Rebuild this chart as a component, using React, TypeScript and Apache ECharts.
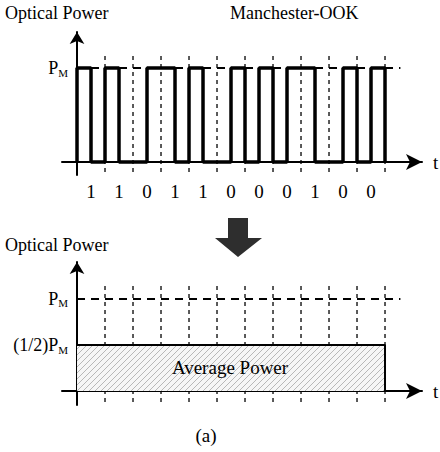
import React, { useEffect, useRef } from 'react';
import * as echarts from 'echarts';

// ---- data ----
const bits = [1, 1, 0, 1, 1, 0, 0, 0, 1, 0, 0];
const peakLevel = 1; // P_M
const averageLevel = 0.5; // (1/2) P_M
const boundaries = bits.map((_, i) => i + 1);
const topLevelTicks = [1];
const bottomLevelTicks = [0.5, 1];
const bitCenters = bits.map((_, i) => i + 0.5);
const levelNames: Record<string, string> = {
  '1': '{p|P}{s|M}',
  '0.5': '{p|(1/2)P}{s|M}',
};

// Manchester-OOK: bit 1 -> high then low, bit 0 -> low then high
const halfLevels = bits.flatMap((b) => (b ? [peakLevel, 0] : [0, peakLevel]));
const waveform = [[0, 0], ...halfLevels.map((l, k) => [k * 0.5, l]), [bits.length, 0]];
const average = [
  [0, averageLevel],
  [bits.length, averageLevel],
  [bits.length, 0],
];

const FONT = "Liberation Serif";

function makeHatch(): HTMLCanvasElement {
  const c = document.createElement('canvas');
  c.width = 6;
  c.height = 6;
  const g = c.getContext('2d')!;
  g.fillStyle = '#f6f6f6';
  g.fillRect(0, 0, 6, 6);
  g.strokeStyle = '#b8b8b8';
  g.lineWidth = 1;
  g.beginPath();
  g.moveTo(0, 6);
  g.lineTo(6, 0);
  g.stroke();
  return c;
}

const richLevel = {
  p: { fontSize: 18, fontFamily: FONT, color: '#000', lineHeight: 20 },
  s: { fontSize: 11, fontFamily: FONT, color: '#000', lineHeight: 12, verticalAlign: 'bottom' as const },
};

function xAxisCfg(gridIndex: number, showBits: boolean) {
  return {
    type: 'value' as const,
    gridIndex,
    min: -0.536,
    max: 12.321,
    name: 't',
    nameLocation: 'end' as const,
    nameGap: 11,
    nameTextStyle: { fontSize: 19, fontFamily: FONT, color: '#000' },
    axisLine: {
      onZero: true,
      symbol: ['none', 'arrow'],
      symbolSize: [12, 16],
      lineStyle: { color: '#000', width: 2 },
    },
    axisTick: { show: false },
    splitLine: { show: false },
    axisLabel: showBits
      ? {
          show: true,
          customValues: bitCenters,
          margin: 7,
          fontSize: 19,
          fontFamily: FONT,
          color: '#000',
          formatter: (v: number) => String(bits[Math.round(v - 0.5)]),
        }
      : { show: false },
  };
}

function yAxisCfg(gridIndex: number, min: number, max: number, ticks: number[]) {
  return {
    type: 'value' as const,
    gridIndex,
    min,
    max,
    axisLine: {
      onZero: true,
      symbol: ['none', 'arrow'],
      symbolSize: [11, 12],
      lineStyle: { color: '#000', width: 2 },
    },
    axisTick: { show: false },
    splitLine: { show: false },
    axisLabel: {
      show: true,
      customValues: ticks,
      margin: -6,
      formatter: (v: number) => levelNames[String(v)] ?? '',
      rich: richLevel,
    },
  };
}

function dashedSeries(axisIndex: number, lo: number, hi: number) {
  return [
    {
      type: 'line',
      xAxisIndex: axisIndex,
      yAxisIndex: axisIndex,
      data: boundaries.flatMap((b) => [[b, lo], [b, hi], [b, '-']]),
      connectNulls: false,
      symbol: 'none',
      silent: true,
      lineStyle: { type: [4, 4], width: 1.3, color: '#000' },
      z: 2,
    },
    {
      type: 'line',
      xAxisIndex: axisIndex,
      yAxisIndex: axisIndex,
      data: [
        [0, peakLevel],
        [11.55, peakLevel],
      ],
      symbol: 'none',
      silent: true,
      lineStyle: { type: [8, 6], width: 2.2, color: '#000' },
      z: 2,
    },
  ];
}

export default function App() {
  const ref = useRef<HTMLDivElement>(null);
  useEffect(() => {
    if (!ref.current) return;
    const chart = echarts.init(ref.current, null, { renderer: 'svg' });
    const hatch = makeHatch();
    const txt = (text: string, size: number) => ({ text, fontSize: size, fontFamily: FONT, fill: '#000' });
    chart.setOption({
      animation: false,
      backgroundColor: '#fff',
      grid: [
        { left: 62, right: 18, top: 32, height: 143 },
        { left: 62, right: 18, top: 262, height: 143 },
      ],
      xAxis: [xAxisCfg(0, true), xAxisCfg(1, false)],
      yAxis: [yAxisCfg(0, -0.1383, 1.383, topLevelTicks), yAxisCfg(1, -0.152, 1.402, bottomLevelTicks)],
      series: [
        {
          type: 'line',
          xAxisIndex: 0,
          yAxisIndex: 0,
          data: waveform,
          step: 'end',
          symbol: 'none',
          lineStyle: { color: '#000', width: 3.5 },
          z: 3,
        },
        ...dashedSeries(0, -0.106, 1.14),
        ...dashedSeries(1, -0.12, 1.15),
        {
          type: 'line',
          xAxisIndex: 1,
          yAxisIndex: 1,
          data: average,
          symbol: 'none',
          lineStyle: { color: '#000', width: 2 },
          areaStyle: { color: { image: hatch, repeat: 'repeat' }, opacity: 1 },
          z: 4,
        },
      ],
      graphic: [
        { type: 'text', left: 5, top: 4, z: 100, style: txt('Optical Power', 18) },
        { type: 'text', left: 230, top: 4, z: 100, style: txt('Manchester-OOK', 18) },
        { type: 'text', left: 5, top: 236, z: 100, style: txt('Optical Power', 18) },
        {
          type: 'text',
          x: 230,
          y: 367,
          z: 100,
          style: { ...txt('Average Power', 19), align: 'center', verticalAlign: 'middle' },
        },
        {
          type: 'text',
          x: 206,
          y: 435,
          z: 100,
          style: { ...txt('(a)', 19), align: 'center', verticalAlign: 'middle' },
        },
        {
          type: 'polygon',
          z: 100,
          shape: {
            points: [
              [228, 218],
              [248, 218],
              [248, 238],
              [262, 238],
              [238, 257],
              [215, 238],
              [228, 238],
            ],
          },
          style: { fill: '#2e2e2e' },
        },
      ],
    });
    return () => chart.dispose();
  }, []);
  return <div ref={ref} style={{ position: 'fixed', left: 0, top: 0, width: 440, height: 452 }} />;
}
